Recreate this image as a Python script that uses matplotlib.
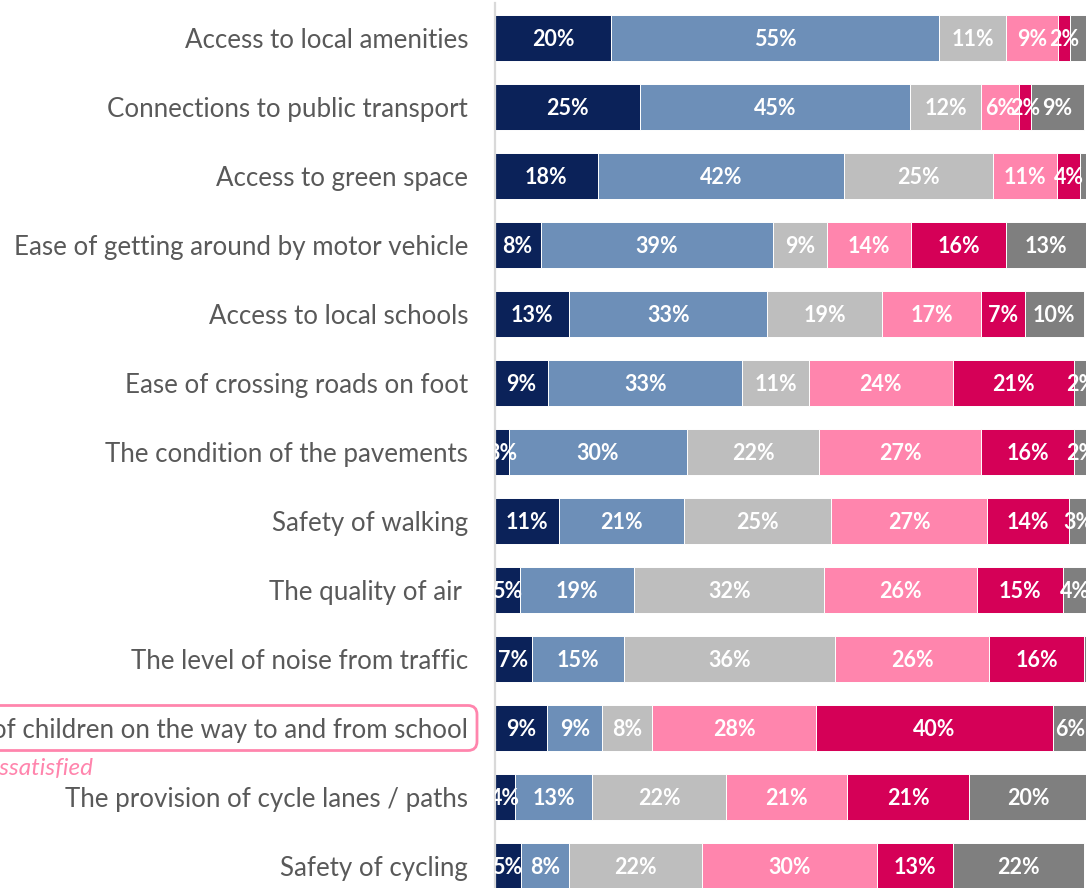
import matplotlib
matplotlib.use("Agg")
import matplotlib.pyplot as plt
from matplotlib.patches import FancyBboxPatch
from matplotlib.transforms import IdentityTransform
import numpy as np

plt.rcParams['font.family'] = ['Lato', 'DejaVu Sans']

categories = [
    "Access to local amenities",
    "Connections to public transport",
    "Access to green space",
    "Ease of getting around by motor vehicle",
    "Access to local schools",
    "Ease of crossing roads on foot",
    "The condition of the pavements",
    "Safety of walking",
    "The quality of air ",
    "The level of noise from traffic",
    "Safety of children on the way to and from school",
    "The provision of cycle lanes / paths",
    "Safety of cycling",
]

# segment values (%) per category, in stacking order
very_satisfied   = [19.7, 24.6, 17.4, 7.8, 12.6, 9.1, 2.5, 10.8, 4.3, 6.4, 8.9, 3.5, 4.4]
fairly_satisfied = [55.3, 45.4, 41.5, 39.2, 33.4, 32.7, 29.9, 21.1, 19.3, 15.4, 9.3, 13.0, 8.2]
neither          = [11.2, 12.1, 25.1, 9.0, 19.4, 11.2, 22.4, 24.8, 32.0, 35.7, 8.4, 22.6, 22.4]
fairly_dissat    = [8.9, 6.4, 10.9, 14.3, 16.7, 24.3, 27.2, 26.4, 25.7, 25.9, 27.7, 20.4, 29.5]
very_dissat      = [1.9, 1.9, 3.8, 15.9, 7.3, 20.5, 15.8, 13.7, 14.6, 16.0, 39.8, 20.5, 12.9]
dont_know        = [3.0, 9.0, 1.3, 13.5, 10.0, 2.2, 2.2, 3.2, 4.1, 0.6, 5.9, 20.0, 22.0]

# printed data labels
lab_vs  = ["20%", "25%", "18%", "8%", "13%", "9%", "3%", "11%", "5%", "7%", "9%", "4%", "5%"]
lab_fs  = ["55%", "45%", "42%", "39%", "33%", "33%", "30%", "21%", "19%", "15%", "9%", "13%", "8%"]
lab_ne  = ["11%", "12%", "25%", "9%", "19%", "11%", "22%", "25%", "32%", "36%", "8%", "22%", "22%"]
lab_fd  = ["9%", "6%", "11%", "14%", "17%", "24%", "27%", "27%", "26%", "26%", "28%", "21%", "30%"]
lab_vd  = ["2%", "2%", "4%", "16%", "7%", "21%", "16%", "14%", "15%", "16%", "40%", "21%", "13%"]
lab_dk  = ["", "9%", "", "13%", "10%", "2%", "2%", "3%", "4%", "", "6%", "20%", "22%"]

series = [very_satisfied, fairly_satisfied, neither, fairly_dissat, very_dissat, dont_know]
labels = [lab_vs, lab_fs, lab_ne, lab_fd, lab_vd, lab_dk]
colors = ["#0B2259", "#6D8FB8", "#BEBEBE", "#FF85AD", "#D50057", "#7F7F7F"]

highlight = "Safety of children on the way to and from school"
note_text = "68% dissatisfied"

W, H = 1086, 888
fig = plt.figure(figsize=(W / 100, H / 100), dpi=100)

ax_left = 494.5
ax_top = 3
ax = fig.add_axes([ax_left / W, 0, (W - ax_left) / W, (H - ax_top) / H])

px_per_pct = 5.93
row0, row_step = 38.0, 69.0
label_dy = 1.5 / row_step  # small downward nudge of data labels
y = np.arange(len(categories))
left = np.zeros(len(categories))
for vals, labs, col in zip(series, labels, colors):
    vals = np.array(vals)
    bars = ax.barh(y, vals, left=left, height=0.667, color=col,
                   edgecolor="white", linewidth=0.7)
    for b, lab in zip(bars, labs):
        if lab:
            cx = b.get_x() + b.get_width() / 2
            ax.text(cx, b.get_y() + b.get_height() / 2 + label_dy, lab,
                    ha="center", va="center", color="white", fontsize=15.5,
                    fontweight="bold", clip_on=True)
    left = left + vals

ax.set_xlim(0, (W - ax_left) / px_per_pct)
ax.set_ylim((H - row0) / row_step, (ax_top - row0) / row_step)

for s in ["top", "right", "bottom"]:
    ax.spines[s].set_visible(False)
ax.spines["left"].set_color("#D9D9D9")
ax.spines["left"].set_linewidth(1.6)
ax.set_xticks([])
ax.set_yticks(y)
ax.set_yticklabels(categories, fontsize=18.6, color="#595959")
ax.tick_params(axis="y", length=0, pad=19)

# highlight box around one category label
idx = categories.index(highlight)
yc = row0 + row_step * idx  # pixel from top
box = FancyBboxPatch((-30, H - (yc + 22.5)), 477 + 30, 45,
                     boxstyle="round,pad=0,rounding_size=9",
                     transform=IdentityTransform(), facecolor="none",
                     edgecolor="#FF85AD", linewidth=2.0)
fig.patches.append(box)

fig.text(93 / W, 1 - (yc + 40) / H, note_text, ha="right", va="center",
         color="#FF85AD", fontsize=17.5, style="italic")

fig.savefig("out.png", dpi=100)
